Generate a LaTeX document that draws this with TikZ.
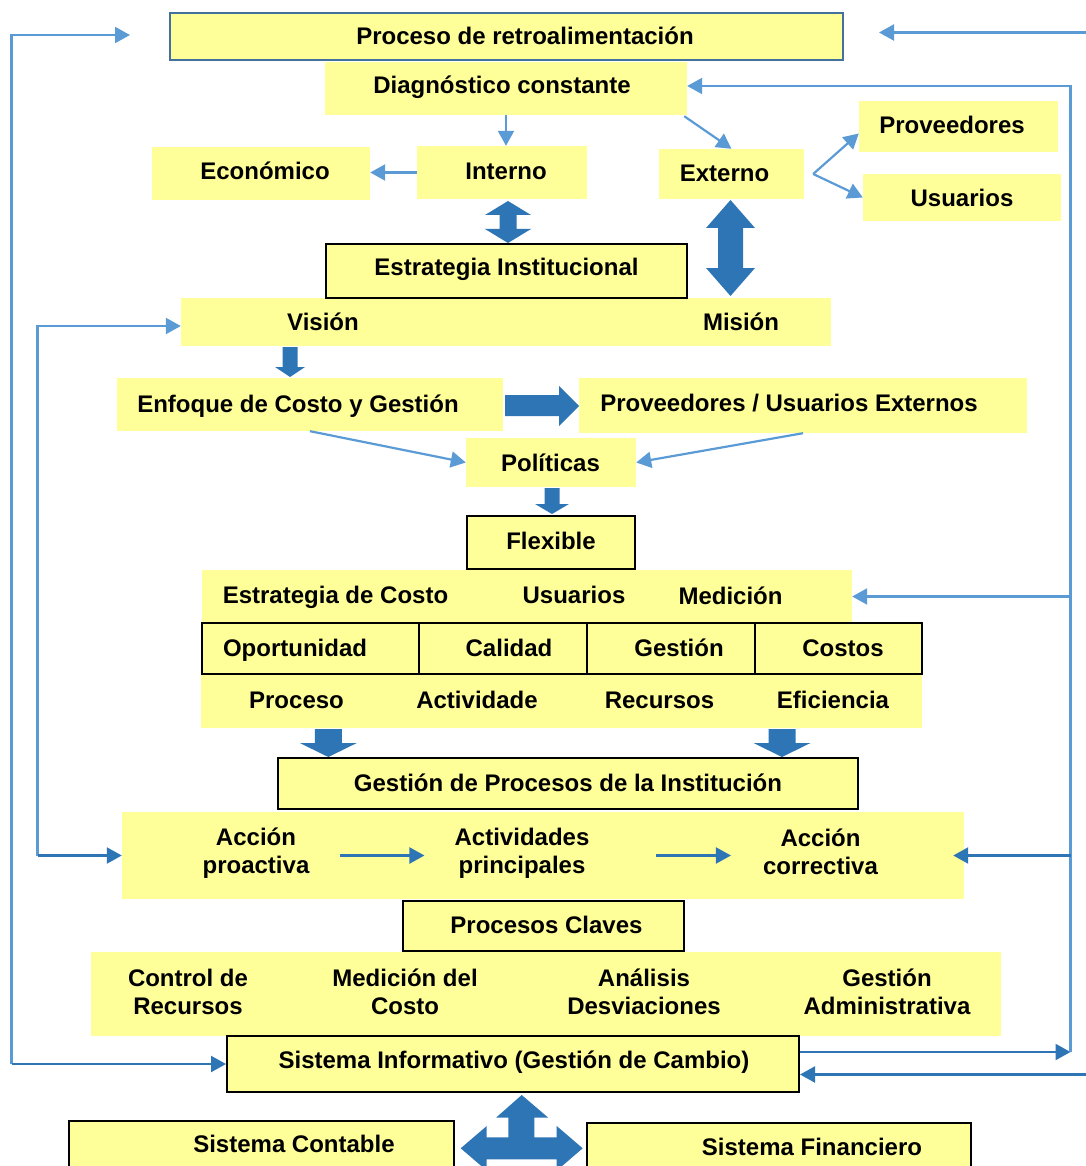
\documentclass[tikz,border=0pt]{standalone}
\usepackage{fontspec}
\setmainfont{Liberation Sans}
\usetikzlibrary{arrows.meta,calc}
\definecolor{yel}{HTML}{FFFF99}
\definecolor{lblue}{HTML}{5B9BD5}
\definecolor{dblue}{HTML}{2E75B6}
\definecolor{bord}{HTML}{41719C}
\newcommand\lbfont{\fontsize{24}{28.5}\selectfont\bfseries}
% name, style, x1, y1, x2, y2
\newcommand\boxat[6]{\node[#2, minimum width={#5-#3}, minimum height={#6-#4}] (#1) at ({(#3+#5)/2},{(#4+#6)/2}) {};}
% cx, ytop, yheadbase, ytip, shaft half, head half
\newcommand\blkdown[6]{\fill[blk] ({#1-#5},#2) -- ({#1+#5},#2) -- ({#1+#5},#3) -- ({#1+#6},#3) -- (#1,#4) -- ({#1-#6},#3) -- ({#1-#5},#3) -- cycle;}
% cx, toptip, head1 base, head2 base, bottom tip, shaft half, head half
\newcommand\blkdouble[7]{\fill[blk] (#1,#2) -- ({#1+#7},#3) -- ({#1+#6},#3) -- ({#1+#6},#4) -- ({#1+#7},#4) -- (#1,#5) -- ({#1-#7},#4) -- ({#1-#6},#4) -- ({#1-#6},#3) -- ({#1-#7},#3) -- cycle;}
\begin{document}
\begin{tikzpicture}[x=1pt,y=-1pt,
  >={Triangle[length=15pt,width=16pt]},
  yb/.style={rectangle, fill=yel, draw=none, inner sep=0pt},
  yk/.style={rectangle, fill=yel, draw=black, line width=2pt, inner sep=0pt},
  ybord/.style={rectangle, fill=yel, draw=bord, line width=2.5pt, inner sep=0pt},
  lbl/.style={inner sep=0pt, font=\lbfont, anchor=base},
  lbl2/.style={inner sep=0pt, font=\lbfont, anchor=base, align=center},
  lb/.style={draw=lblue, line width=2.2pt},
  db/.style={draw=dblue, line width=2.2pt},
  blk/.style={fill=dblue}]
\useasboundingbox (0,0) rectangle (1085,1166);

% ---------- boxes ----------
\boxat{diag}{yb}{325}{62}{687}{115}
\boxat{proc}{ybord}{170}{13}{843}{60}
\boxat{econ}{yb}{152}{147}{370}{200}
\boxat{interno}{yb}{417}{146}{587}{199}
\boxat{externo}{yb}{659}{149}{804}{199}
\boxat{prov}{yb}{859}{101}{1058}{152}
\boxat{usu}{yb}{863}{174}{1061}{221}
\boxat{vmband}{yb}{181}{298}{831}{346}
\boxat{estinst}{yk}{326}{244}{687}{298}
\boxat{enfoque}{yb}{117}{378}{503}{431}
\boxat{provext}{yb}{579}{378}{1027}{433}
\boxat{pol}{yb}{466}{438}{636}{487}
\boxat{medband}{yb}{202}{570}{852}{623}
\boxat{procband}{yb}{201}{675}{922}{728}
\boxat{flex}{yk}{467}{516}{635}{569}
\boxat{cA}{yk}{202}{623}{419}{674}
\boxat{cB}{yk}{419}{623}{587}{674}
\boxat{cC}{yk}{587}{623}{755}{674}
\boxat{cD}{yk}{755}{623}{922}{674}
\boxat{gpi}{yk}{278}{758}{858}{809}
\boxat{accband}{yb}{122}{812}{964}{899}
\boxat{pclave}{yk}{403}{901}{684}{951}
\boxat{ctrlband}{yb}{91}{952}{1001}{1036}
\boxat{sinfo}{yk}{227}{1036}{799}{1092}
\boxat{scont}{yk}{69}{1121}{454}{1180}
\boxat{sfin}{yk}{587}{1123}{971}{1180}

% ---------- labels ----------
\node[lbl] (tproc) at (525,45) {Proceso de retroalimentación};
\node[lbl] (tdiag) at (502,93.5) {Diagnóstico constante};
\node[lbl] (tecon) at (265,180) {Económico};
\node[lbl] (tint) at (506,180) {Interno};
\node[lbl] (text) at (724.5,181.5) {Externo};
\node[lbl] (tprov) at (952,133.5) {Proveedores};
\node[lbl] (tusu) at (962,207) {Usuarios};
\node[lbl] (test) at (506.5,275.5) {Estrategia Institucional};
\node[lbl] (tvis) at (323,330) {Visión};
\node[lbl] (tmis) at (741,330) {Misión};
\node[lbl] (tenf) at (298,412) {Enfoque de Costo y Gestión};
\node[lbl] (tpe) at (789,411) {Proveedores / Usuarios Externos};
\node[lbl] (tpol) at (550.5,471) {Políticas};
\node[lbl] (tflex) at (551,549) {Flexible};
\node[lbl] (tedc) at (335.5,603) {Estrategia de Costo};
\node[lbl] (tusu2) at (574,603) {Usuarios};
\node[lbl] (tmed) at (730.5,604) {Medición};
\node[lbl] (topo) at (295,656) {Oportunidad};
\node[lbl] (tcal) at (509,656) {Calidad};
\node[lbl] (tges) at (679,656) {Gestión};
\node[lbl] (tcos) at (843,656) {Costos};
\node[lbl] (tpro) at (296.5,708.5) {Proceso};
\node[lbl] (tact) at (477,708) {Actividade};
\node[lbl] (trec) at (659.5,708.5) {Recursos};
\node[lbl] (tefi) at (833,708.5) {Eficiencia};
\node[lbl] (tgpi) at (568,791.5) {Gestión de Procesos de la Institución};
\node[lbl2] (tproact) at (256,873.5) {Acción\\proactiva};
\node[lbl2] (tactiv) at (522,873.5) {Actividades\\principales};
\node[lbl2] (tcorr) at (820.5,874.5) {Acción\\correctiva};
\node[lbl] (tpcl) at (546.5,933.5) {Procesos Claves};
\node[lbl2] (tctrl) at (188,1014.5) {Control de\\Recursos};
\node[lbl2] (tmdc) at (405,1014.5) {Medición del\\Costo};
\node[lbl2] (tana) at (644,1014.5) {Análisis\\Desviaciones};
\node[lbl2] (tgad) at (887,1014.5) {Gestión\\Administrativa};
\node[lbl] (tsinf) at (514,1068.5) {Sistema Informativo (Gestión de Cambio)};
\node[lbl] (tscon) at (294,1152.5) {Sistema Contable};
\node[lbl] (tsfin) at (812,1155) {Sistema Financiero};

% ---------- block arrows ----------
\blkdouble{508}{201}{215}{229}{243}{8.5}{23}
\blkdouble{730.5}{200}{228}{268}{296}{12.5}{24.5}
\blkdown{290}{347}{367}{377}{7.5}{15}
\blkdown{552}{488}{504}{514}{7.5}{17}
\blkdown{328.3}{729}{743}{757}{13.5}{28.5}
\blkdown{782}{729}{743}{757}{13.5}{28.5}
\fill[blk] (505,395) -- (559,395) -- (559,386) -- (579,406) -- (559,426) -- (559,416) -- (505,416) -- cycle;
\fill[blk] (460.7,1148.3) -- (486.7,1126) -- (486.7,1137.3) -- (508.3,1137.3) -- (508.3,1117.7) -- (496,1117.7)
  -- (521.7,1095) -- (548.3,1117.7) -- (534.3,1117.7) -- (534.3,1137.3) -- (556.7,1137.3) -- (556.7,1126)
  -- (582.7,1148.3) -- (556.7,1170.6) -- (556.7,1159.3) -- (486.7,1159.3) -- (486.7,1170.6) -- cycle;

% ---------- thin connectors ----------
\coordinate (Lout) at (11.5,0);
\coordinate (Lin) at (37.5,0);
\coordinate (Rx) at (1070.5,0);
\coordinate (topL) at (130,35);
\coordinate (topR) at (1090,32.5);
\coordinate (topRtip) at (879,32.5);
\coordinate (botR) at (1090,1074.5);
\coordinate (xs) at ($(externo.east)+(9,0)$);

\draw[lb,->] (diag.south) -- (diag.south |- interno.north);
\draw[lb,->] ($(diag.south east)+(-3,1)$) -- (externo.north);
\draw[lb,->] (interno.west) -- (interno.west -| econ.east);
\draw[lb,->] (xs) -- ($(prov.west)+(0,7)$);
\draw[lb,->] (xs) -- (usu.west);
\draw[lb,->] (enfoque.south) -- (pol.west);
\draw[lb,->] (provext.south) -- (pol.east);
\draw[lb,->] (topR) -- (topRtip);

% left outer loop
\draw[lb,->] (sinfo.west -| Lout) -- (topL -| Lout) -- (topL);
\draw[db,->] (sinfo.west -| Lout) -- (sinfo.west);
% left inner loop
\draw[lb,->] (accband.west -| Lin) -- ($(vmband.west -| Lin)+(0,4)$) -- ($(vmband.west)+(0,4)$);
\draw[db,->] (accband.west -| Lin) -- (accband.west);
% right loop
\draw[db,->] ($(sinfo.east)+(0,-12)$) -- ($(sinfo.east -| Rx)+(0,-12)$);
\draw[lb,->] ($(sinfo.east -| Rx)+(0,-12)$) -- ($(diag.east -| Rx)+(0,-2.5)$) -- ($(diag.east)+(0,-2.5)$);
\draw[lb,->] (medband.east -| Rx) -- (medband.east);
\draw[db,->] (accband.east -| Rx) -- ($(accband.east)+(-11,0)$);
\draw[db,->] (botR) -- (botR -| sinfo.east);
% action row
\draw[db,->] ($(tproact.east |- accband.west)+(30,0)$) -- ($(tactiv.west |- accband.west)+(-30,0)$);
\draw[db,->] ($(tactiv.east |- accband.west)+(66,0)$) -- ($(tcorr.west |- accband.west)+(-32,0)$);
\end{tikzpicture}
\end{document}
